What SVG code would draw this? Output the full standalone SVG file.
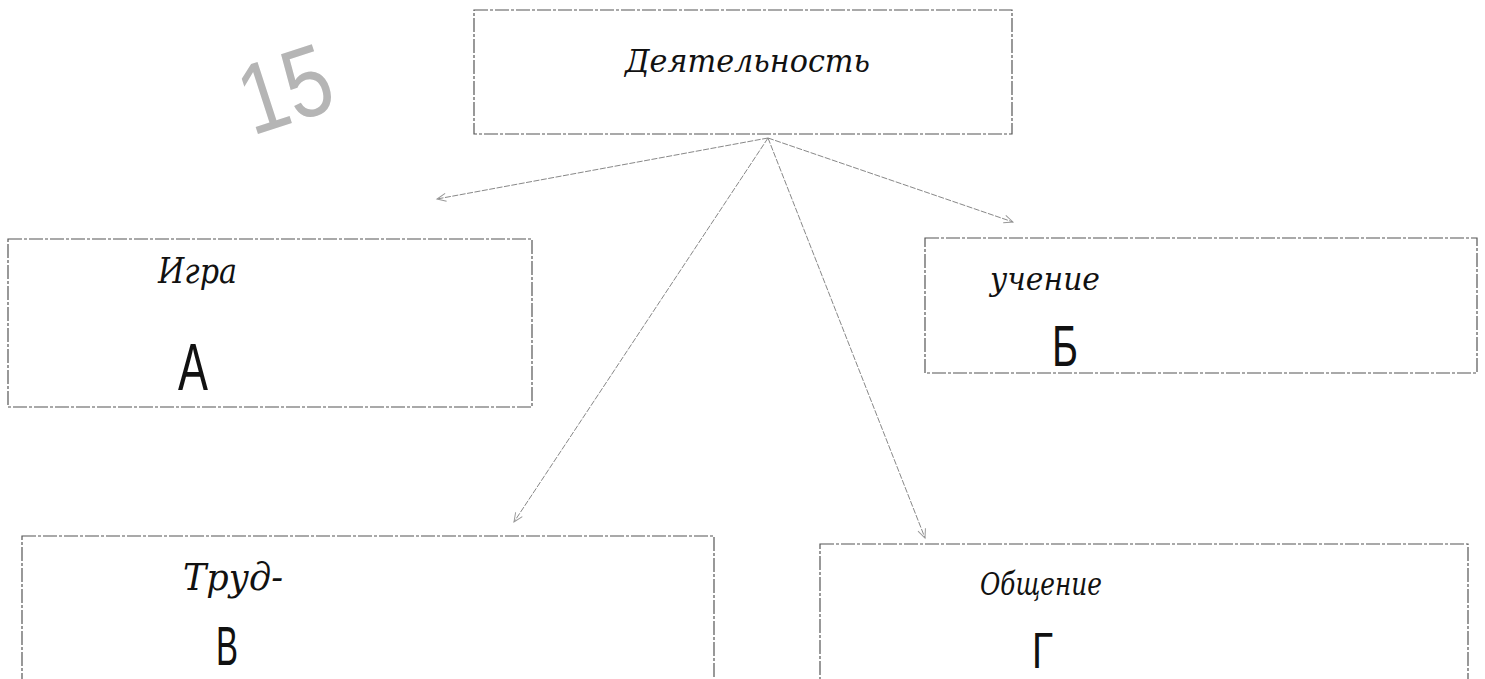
<svg xmlns="http://www.w3.org/2000/svg" width="1485" height="679" viewBox="0 0 1485 679">
<style>
.box{fill:none;stroke:#555;stroke-width:1.2;stroke-dasharray:14 2 3 2}
.conn{stroke:#888;stroke-width:1;fill:none;stroke-dasharray:6 1.5}
.hw{font-family:"DejaVu Serif","Liberation Serif",serif;font-style:italic;fill:#111}
.big{font-family:"Liberation Sans","DejaVu Sans",sans-serif;fill:#111}
</style>
<defs>
<marker id="ah" markerWidth="12" markerHeight="10" refX="10" refY="5" orient="auto" markerUnits="userSpaceOnUse">
<path d="M1,1 L10,5 L1,9" fill="none" stroke="#999" stroke-width="1"/>
</marker>
</defs>
<rect width="1485" height="679" fill="#fff"/>
<text x="252" y="136" font-family="Liberation Sans,sans-serif" font-size="100" fill="#b5b5b5" textLength="92" lengthAdjust="spacingAndGlyphs" transform="rotate(-18 252 136)">15</text>
<g id="connectors">
<line class="conn" x1="768" y1="138" x2="437" y2="199" marker-end="url(#ah)"/>
<line class="conn" x1="768" y1="138" x2="1013" y2="222" marker-end="url(#ah)"/>
<line class="conn" x1="768" y1="138" x2="514" y2="522" marker-end="url(#ah)"/>
<line class="conn" x1="768" y1="138" x2="925" y2="538" marker-end="url(#ah)"/>
</g>
<g id="node-root">
<rect class="box" x="474" y="10" width="538" height="124"/>
<text class="hw" x="625" y="72" font-size="32" textLength="245" lengthAdjust="spacingAndGlyphs">Деятельность</text>
</g>
<g id="node-a">
<rect class="box" x="8" y="239" width="524" height="168"/>
<text class="hw" x="158" y="283" font-size="36" textLength="79" lengthAdjust="spacingAndGlyphs">Игра</text>
<text class="big" x="178" y="390" font-size="67" textLength="30" lengthAdjust="spacingAndGlyphs">А</text>
</g>
<g id="node-b">
<rect class="box" x="925" y="238" width="552" height="135"/>
<text class="hw" x="990" y="290" font-size="32" textLength="110" lengthAdjust="spacingAndGlyphs">учение</text>
<text class="big" x="1052" y="366" font-size="57" textLength="26" lengthAdjust="spacingAndGlyphs">Б</text>
</g>
<g id="node-v">
<rect class="box" x="22" y="536" width="692" height="150"/>
<text class="hw" x="183" y="590" font-size="38" textLength="100" lengthAdjust="spacingAndGlyphs">Труд-</text>
<text class="big" x="216" y="665" font-size="56" textLength="22" lengthAdjust="spacingAndGlyphs">В</text>
</g>
<g id="node-g">
<rect class="box" x="820" y="544" width="648" height="142"/>
<text class="hw" x="980" y="595" font-size="32" textLength="122" lengthAdjust="spacingAndGlyphs">Общение</text>
<text class="big" x="1032" y="668" font-size="50" textLength="21" lengthAdjust="spacingAndGlyphs">Г</text>
</g>
</svg>
